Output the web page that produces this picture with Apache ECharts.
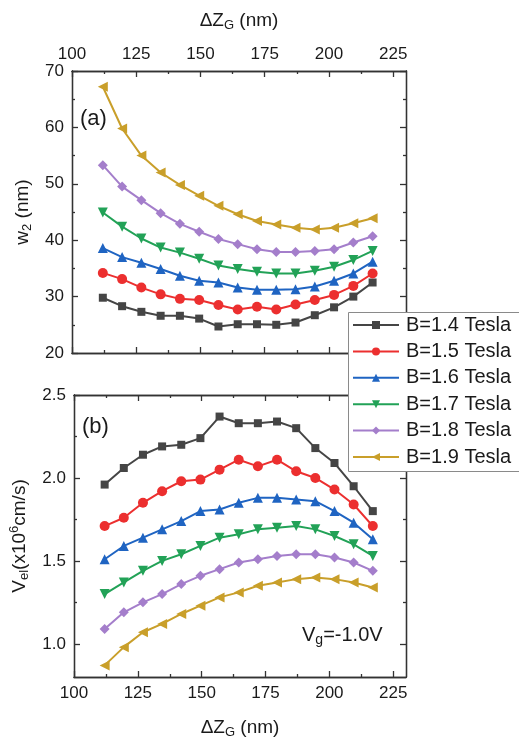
<!DOCTYPE html>
<html>
<head>
<meta charset="utf-8">
<script src="https://cdn.jsdelivr.net/npm/echarts@6/dist/echarts.min.js"></script>
<style>
  html, body { margin: 0; padding: 0; background: #fff; }
  #chart { width: 519px; height: 740px; }
</style>
</head>
<body>
<div id="chart"></div>
<script>
// gate length, nm
var dzg = [112, 119.5, 127, 134.5, 142, 149.5, 157, 164.5, 172, 179.5, 187, 194.5, 202, 209.5, 217]

var names = ['B=1.4 Tesla', 'B=1.5 Tesla', 'B=1.6 Tesla', 'B=1.7 Tesla', 'B=1.8 Tesla', 'B=1.9 Tesla']

// panel (a): w2 in nm
var w2B14 = [29.8, 28.3, 27.3, 26.6, 26.6, 26.1, 24.7, 25.1, 25.1, 25.0, 25.4, 26.7, 28.1, 30.0, 32.5]
var w2B15 = [34.2, 33.1, 31.6, 30.4, 29.6, 29.4, 28.5, 27.7, 28.2, 27.7, 28.6, 29.4, 30.3, 31.9, 34.1]
var w2B16 = [38.6, 37.0, 36.0, 34.9, 33.7, 32.8, 32.5, 31.6, 31.2, 31.2, 31.3, 31.8, 32.8, 34.1, 36.2]
var w2B17 = [44.9, 42.4, 40.3, 38.7, 37.8, 36.7, 35.5, 34.9, 34.4, 34.1, 34.1, 34.6, 35.3, 36.5, 38.1]
var w2B18 = [53.3, 49.5, 47.1, 44.8, 42.9, 41.5, 40.2, 39.3, 38.4, 37.9, 37.9, 38.1, 38.4, 39.6, 40.7]
var w2B19 = [67.2, 59.8, 55.0, 52.0, 49.8, 47.9, 46.1, 44.6, 43.4, 42.8, 42.2, 41.9, 42.2, 43.0, 43.9]

// panel (b): Vel in 10^6 cm/s
var velB14 = [1.96, 2.06, 2.14, 2.19, 2.20, 2.24, 2.37, 2.33, 2.33, 2.34, 2.30, 2.18, 2.09, 1.95, 1.80]
var velB15 = [1.71, 1.76, 1.85, 1.92, 1.98, 1.99, 2.05, 2.11, 2.07, 2.11, 2.04, 2.00, 1.93, 1.84, 1.71]
var velB16 = [1.51, 1.59, 1.64, 1.69, 1.74, 1.80, 1.81, 1.85, 1.88, 1.88, 1.87, 1.86, 1.80, 1.73, 1.63]
var velB17 = [1.30, 1.37, 1.44, 1.50, 1.54, 1.59, 1.64, 1.66, 1.69, 1.70, 1.71, 1.69, 1.65, 1.60, 1.53]
var velB18 = [1.09, 1.19, 1.25, 1.30, 1.36, 1.41, 1.45, 1.49, 1.51, 1.53, 1.54, 1.54, 1.52, 1.49, 1.44]
var velB19 = [0.87, 0.98, 1.07, 1.12, 1.18, 1.23, 1.28, 1.31, 1.35, 1.37, 1.39, 1.40, 1.39, 1.37, 1.34]

// ticks
var xMajor = [100, 125, 150, 175, 200, 225]
var xMinor = [112.5, 137.5, 162.5, 187.5, 212.5]
var w2Major = [20, 30, 40, 50, 60, 70]
var w2Minor = [25, 35, 45, 55, 65]
var velMajor = [1.0, 1.5, 2.0, 2.5]
var velMinor = [1.25, 1.75, 2.25]

var colors = ['#454545', '#ec2f2f', '#1f64c2', '#22a257', '#a47ecb', '#c99f2a']
var symbols = ['rect', 'circle', 'triangle', 'triangle', 'diamond', 'triangle']
var rotates = [0, 0, 0, 180, 0, 90]

var font = 'Liberation Sans, Arial, sans-serif'
var ink = '#1a1a1a'

var subRich = {
  n: { fontSize: 19, fontFamily: font, color: ink },
  s: { fontSize: 13, fontFamily: font, color: ink, padding: [10, 0, 0, 0] },
  p: { fontSize: 13, fontFamily: font, color: ink, padding: [0, 0, 10, 0] }
}

function fmt (v) {
  return Number.isInteger(v) && v >= 10 ? String(v) : v.toFixed(1)
}

// one axis: major ticks (optionally labels) or minor ticks
function makeAxis (grid, pos, min, max, ticks, len, labels, extra) {
  var ax = {
    type: 'value',
    gridIndex: grid,
    position: pos,
    min: min,
    max: max,
    splitLine: { show: false },
    axisLine: { show: true, onZero: false, lineStyle: { color: '#333', width: 1.3 } },
    axisTick: { show: true, inside: true, length: len, customValues: ticks, lineStyle: { color: '#333', width: 1.3 } },
    axisLabel: {
      show: !!labels,
      customValues: ticks,
      margin: 8,
      fontSize: 17,
      fontFamily: font,
      color: ink,
      formatter: fmt
    }
  }
  for (var k in extra || {}) ax[k] = extra[k]
  return ax
}

var xAxes = [
  makeAxis(0, 'top', 100, 230, xMajor, 6, true, {
    name: '{n|ΔZ}{s|G}{n| (nm)}',
    nameLocation: 'middle',
    nameGap: 39,
    nameTextStyle: { rich: subRich }
  }),
  makeAxis(0, 'bottom', 100, 230, xMajor, 6, false),
  makeAxis(0, 'top', 100, 230, xMinor, 3, false),
  makeAxis(0, 'bottom', 100, 230, xMinor, 3, false),
  makeAxis(1, 'top', 100, 230, xMajor, 6, false),
  makeAxis(1, 'bottom', 100, 230, xMajor, 6, true, {
    name: '{n|ΔZ}{s|G}{n| (nm)}',
    nameLocation: 'middle',
    nameGap: 39,
    nameTextStyle: { rich: subRich }
  }),
  makeAxis(1, 'top', 100, 230, xMinor, 3, false),
  makeAxis(1, 'bottom', 100, 230, xMinor, 3, false)
]

var yAxes = [
  makeAxis(0, 'left', 20, 70, w2Major, 6, true, {
    name: '{n|w}{s|2}{n| (nm)}',
    nameLocation: 'middle',
    nameGap: 36,
    nameTextStyle: { rich: subRich }
  }),
  makeAxis(0, 'right', 20, 70, w2Major, 6, false),
  makeAxis(0, 'left', 20, 70, w2Minor, 3, false),
  makeAxis(0, 'right', 20, 70, w2Minor, 3, false),
  makeAxis(1, 'left', 0.8, 2.5, velMajor, 6, true, {
    name: '{n|V}{s|el}{n|(x10}{p|6}{n|cm/s)}',
    nameLocation: 'middle',
    nameGap: 43,
    nameTextStyle: { rich: subRich }
  }),
  makeAxis(1, 'right', 0.8, 2.5, velMajor, 6, false),
  makeAxis(1, 'left', 0.8, 2.5, velMinor, 3, false),
  makeAxis(1, 'right', 0.8, 2.5, velMinor, 3, false)
]

function pairs (ys) {
  var out = []
  for (var i = 0; i < dzg.length; i++) out.push([dzg[i], ys[i]])
  return out
}

function makeSeries (i, ys, xi, yi) {
  return {
    name: names[i],
    type: 'line',
    xAxisIndex: xi,
    yAxisIndex: yi,
    data: pairs(ys),
    symbol: symbols[i],
    symbolRotate: rotates[i],
    symbolSize: symbols[i] === 'rect' ? 8 : 10,
    showSymbol: true,
    animation: false,
    itemStyle: { color: colors[i] },
    lineStyle: { color: colors[i], width: 2 },
    z: 3
  }
}

var topData = [w2B14, w2B15, w2B16, w2B17, w2B18, w2B19]
var botData = [velB14, velB15, velB16, velB17, velB18, velB19]

var series = []
for (var i = 0; i < 6; i++) series.push(makeSeries(i, topData[i], 0, 0))
for (var j = 0; j < 6; j++) series.push(makeSeries(j, botData[j], 5, 4))

var chart = echarts.init(document.getElementById('chart'), null, { renderer: 'canvas' })

chart.setOption({
  backgroundColor: '#fff',
  animation: false,
  grid: [
    { left: 72, top: 71, width: 334, height: 282 },
    { left: 72, top: 395, width: 334, height: 282 }
  ],
  xAxis: xAxes,
  yAxis: yAxes,
  legend: {
    data: names,
    orient: 'vertical',
    left: 348,
    top: 312,
    padding: [3, 4, 3, 4],
    itemGap: 6.4,
    itemWidth: 46,
    itemHeight: 10,
    z: 10,
    textStyle: { fontSize: 20, fontFamily: font, color: ink, padding: [0, 0, 0, 2] }
  },
  graphic: [
    // legend frame, runs off the right edge like the original
    {
      type: 'rect', z: 9,
      shape: { x: 348.5, y: 312.5, width: 220, height: 159 },
      style: { fill: '#fff', stroke: '#8a8a8a', lineWidth: 1 }
    },
    {
      type: 'text', left: 80, top: 108, z: 20,
      style: { text: '(a)', font: '22px ' + font, fill: ink }
    },
    {
      type: 'text', left: 82, top: 416, z: 20,
      style: { text: '(b)', font: '22px ' + font, fill: ink }
    },
    {
      type: 'text', left: 302, top: 625, z: 20,
      style: {
        text: '{n|V}{s|g}{n|=-1.0V}',
        rich: {
          n: { fontSize: 20, fontFamily: font, fill: ink },
          s: { fontSize: 14, fontFamily: font, fill: ink, padding: [11, 0, 0, 0] }
        }
      }
    }
  ],
  series: series
})
</script>
</body>
</html>
